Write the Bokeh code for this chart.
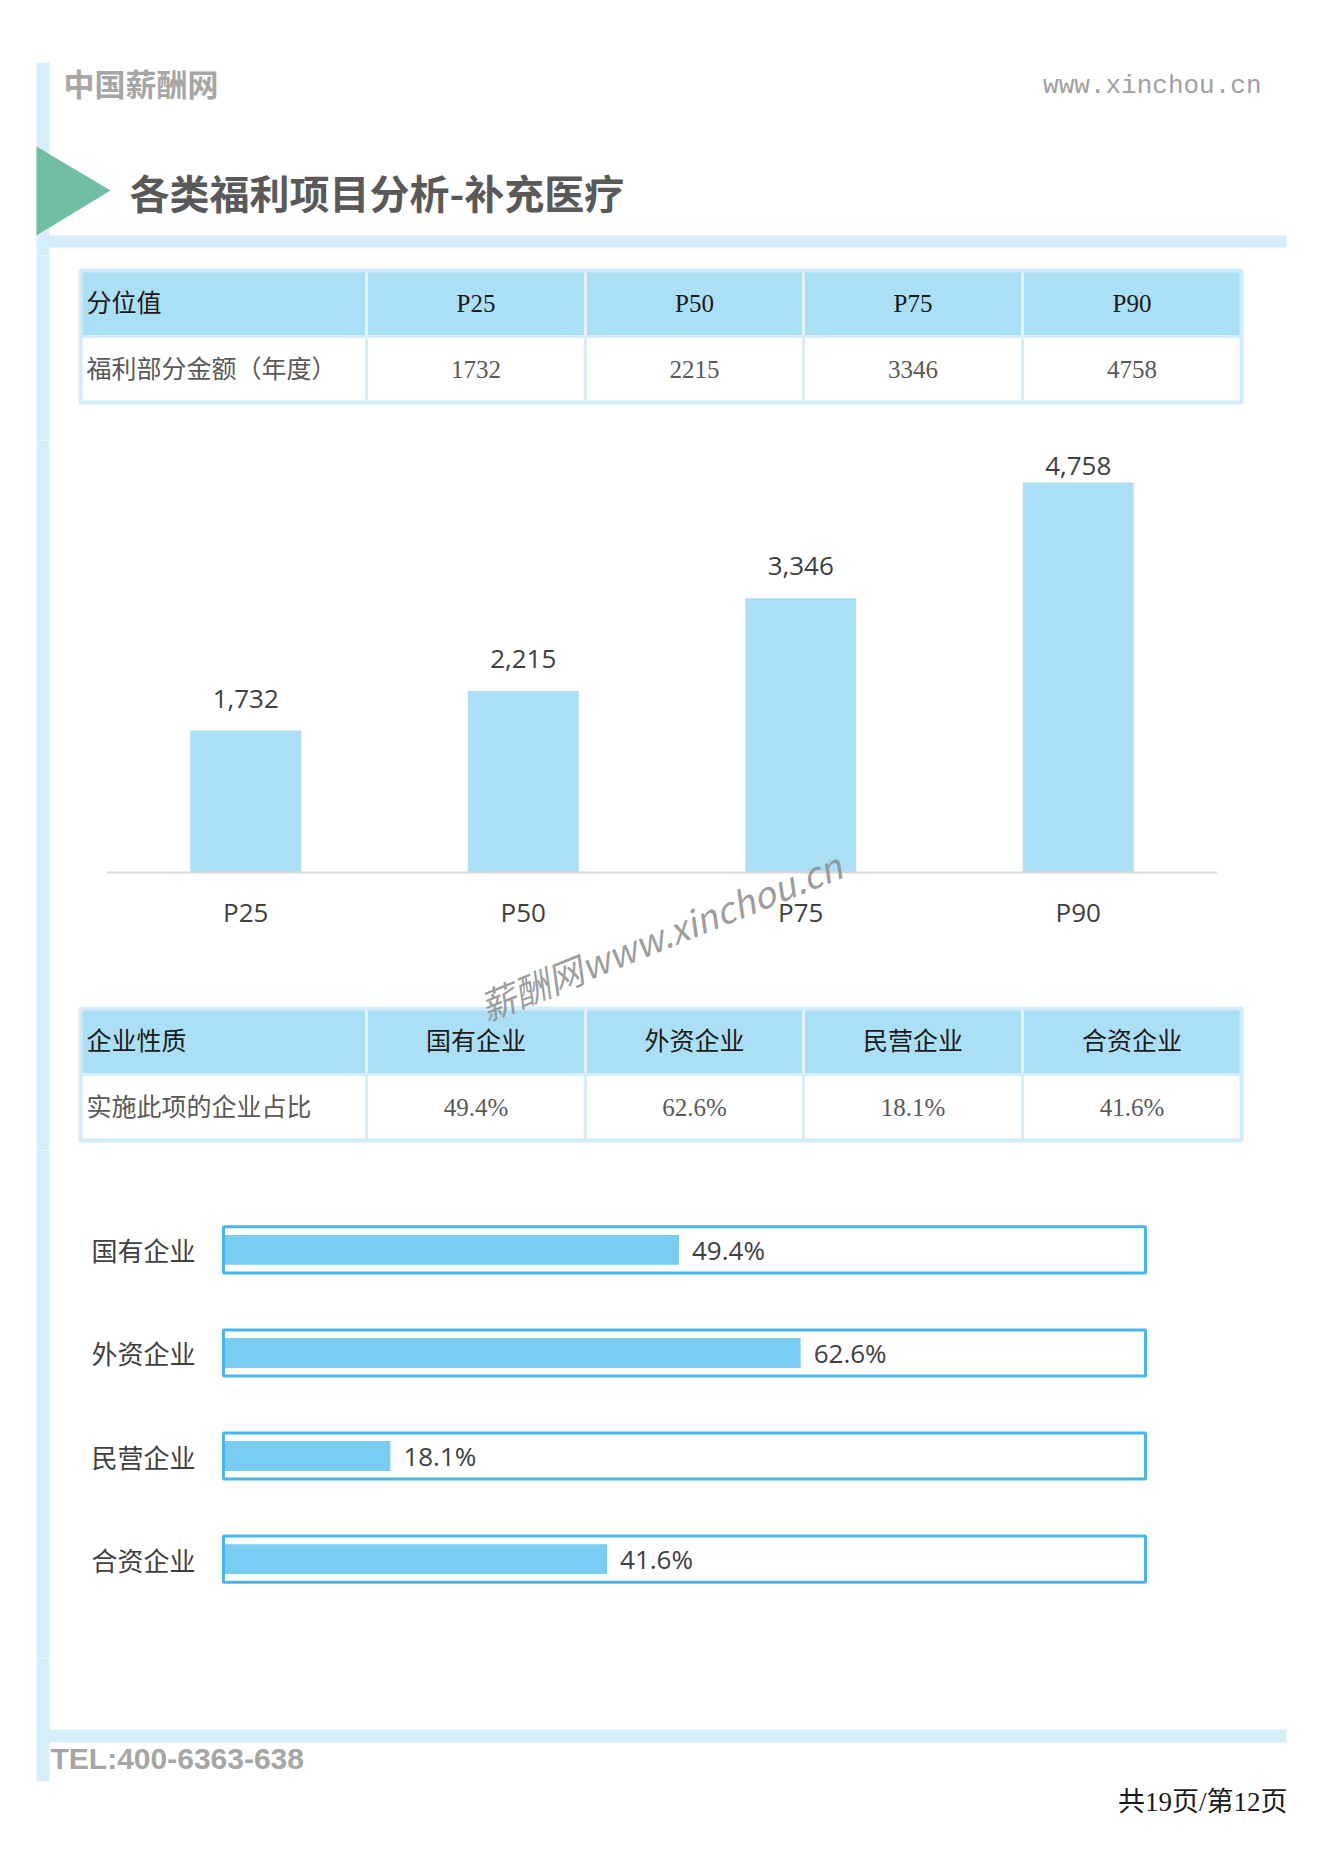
import math
from bokeh.plotting import figure
from bokeh.models import Range1d, FactorRange
from bokeh.layouts import column
from bokeh.core.properties import value
from bokeh.embed import file_html
from bokeh.resources import INLINE

# ---------------- data ----------------
pct_labels = ["P25", "P50", "P75", "P90"]
pct_values = [1732, 2215, 3346, 4758]
table1_head = "分位值"
table1_rowname = "福利部分金额（年度）"

ent_types = ["国有企业", "外资企业", "民营企业", "合资企业"]
ent_share = [49.4, 62.6, 18.1, 41.6]
table2_head = "企业性质"
table2_rowname = "实施此项的企业占比"

page_title = "各类福利项目分析-补充医疗"
brand = "中国薪酬网"
site = "www.xinchou.cn"
tel = "TEL:400-6363-638"
page_no = "共19页/第12页"
watermark = "薪酬网www.xinchou.cn"

# ---------------- styles ----------------
W = 1323
CJK = value("Noto Sans CJK SC")
SERIF = value("Liberation Serif, Noto Sans CJK SC")
NUM = value("Open Sans")
LIGHT = "#d6eef9"


def ident(v):
    return v


def fig(h, x_range=None, y_range=None):
    p = figure(width=W, height=h,
               x_range=x_range if x_range is not None else Range1d(0, W),
               y_range=y_range if y_range is not None else Range1d(h, 0),
               toolbar_location=None, output_backend="svg", min_border=0,
               x_axis_location=None, y_axis_location=None,
               outline_line_color=None, border_fill_color="white",
               background_fill_color="white")
    p.grid.visible = False
    return p


def left_bar(p, top, bottom, fx=ident, fy=ident):
    p.quad(left=[fx(36)], right=[fx(49)], top=[fy(top)], bottom=[fy(bottom)],
           color=LIGHT, line_color=None)


col_edges = [80, 366, 585, 803, 1022, 1241]


def draw_table(p, top, rh, head, head_cells, rowname, row_cells, fx=ident, fy=ident):
    lefts = [fx(v) for v in col_edges[:-1]]
    rights = [fx(v) for v in col_edges[1:]]
    n = len(lefts)
    p.quad(left=lefts, right=rights, top=[fy(top)] * n, bottom=[fy(top + rh)] * n,
           fill_color="#abdff6", line_color="#e2f3fb", line_width=3)
    p.quad(left=lefts, right=rights, top=[fy(top + rh)] * n, bottom=[fy(top + 2 * rh)] * n,
           fill_color="white", line_color="#d6eef9", line_width=3)
    p.quad(left=[fx(col_edges[0])], right=[fx(col_edges[-1])], top=[fy(top)],
           bottom=[fy(top + 2 * rh)], fill_color=None, line_color="#d2ebf8", line_width=4)
    centers = [fx((a + b) / 2) for a, b in zip(col_edges[1:-1], col_edges[2:])]
    kw = dict(text_font=SERIF, text_font_size="25px", text_baseline="middle")
    p.text(x=[fx(col_edges[0] + 6)], y=[fy(top + rh / 2)], text=[head],
           text_color="#1a1a1a", **kw)
    p.text(x=centers, y=[fy(top + rh / 2)] * len(centers), text=head_cells,
           text_color="#1a1a1a", text_align="center", **kw)
    p.text(x=[fx(col_edges[0] + 6)], y=[fy(top + rh * 1.5)], text=[rowname],
           text_color="#595959", **kw)
    p.text(x=centers, y=[fy(top + rh * 1.5)] * len(centers), text=row_cells,
           text_color="#595959", text_align="center", **kw)


# ---------------- header (page y 0-255) ----------------
hd = fig(255)
left_bar(hd, 62, 265)
hd.quad(left=[36], right=[1286], top=[235], bottom=[247], color=LIGHT, line_color=None)
hd.patch([36, 36, 110], [146, 235, 190], color="#72bea5", line_color=None)
hd.text(x=[63], y=[82], text=[brand], text_font=CJK, text_font_size="31px",
        text_font_style="bold", text_color="#a6a6a6", text_baseline="middle")
hd.text(x=[1261], y=[85], text=[site], text_font=value("Liberation Mono"),
        text_font_size="26px", text_color="#a0a0a0", text_baseline="middle",
        text_align="right")
hd.text(x=[129], y=[191], text=[page_title], text_font=CJK, text_font_size="40px",
        text_font_style="bold", text_color="#595959", text_baseline="middle")

# ---------------- table 1 (page y 255-440) ----------------
t1 = fig(185)
left_bar(t1, -10, 195)
draw_table(t1, 15, 66, table1_head, pct_labels, table1_rowname,
           [str(v) for v in pct_values])

# ---------------- bar chart + table 2 (page y 440-1150) ----------------
BH = 710
cat_px = 277.5                  # pixels per category
base_px = 432                   # baseline, px from the top of this block
upp = max(pct_values) / 390.0   # value units per pixel
y_hi = base_px * upp
y_lo = -(BH - base_px) * upp
ncat = len(pct_labels)
pad = (W / cat_px - ncat) / ncat
side_px = (W - ncat * cat_px) / 2
bc = fig(BH, x_range=FactorRange(factors=pct_labels, range_padding=pad),
         y_range=Range1d(y_lo, y_hi))


def bfx(px):
    return (px - side_px) / cat_px


def bfy(py):
    return y_hi - py * upp


left_bar(bc, -10, BH + 10, bfx, bfy)
bc.vbar(x=pct_labels, top=pct_values, width=0.4, fill_color="#abdff6", line_color=None)
bc.segment(x0=[0], y0=[0], x1=[ncat], y1=[0], line_color="#d9d9d9", line_width=2)
offs = [-min(32, (y_hi - v) / upp - 25) for v in pct_values]
bc.text(x=pct_labels, y=pct_values, text=[f"{v:,}" for v in pct_values], y_offset=offs,
        text_align="center", text_baseline="middle", text_font=NUM,
        text_font_size="26px", text_color="#404040")
bc.text(x=pct_labels, y=[0] * ncat, text=pct_labels, y_offset=39,
        text_align="center", text_baseline="middle", text_font=NUM,
        text_font_size="26px", text_color="#404040")
draw_table(bc, 568, 66, table2_head, ent_types, table2_rowname,
           [f"{v}%" for v in ent_share], bfx, bfy)
bc.text(x=[2.0], y=[0], text=[watermark], x_offset=-2, y_offset=62,
        angle=math.radians(22), text_align="center", text_baseline="middle",
        text_font=CJK, text_font_size="36px", text_font_style="italic",
        text_color="#8c8c8c", text_alpha=0.85)

# ---------------- horizontal bars (page y 1150-1658) ----------------
HH = 508
ppu = 922 / 100.0               # pixels per percent
x0 = -223 / ppu
nent = len(ent_types)
hpad = 0.232
span_units = nent * (1 + hpad)
hb = fig(HH, x_range=Range1d(x0, x0 + W / ppu),
         y_range=FactorRange(factors=ent_types[::-1], range_padding=hpad))


def hfx(px):
    return x0 + px / ppu


def hfy(py):
    top_u = nent + nent * hpad / 2
    return top_u - py * span_units / HH


left_bar(hb, -10, HH + 10, hfx, hfy)
hb.hbar(y=ent_types, left=0, right=ent_share, height=0.29, fill_color="#79ccf2",
        line_color=None)
hb.hbar(y=ent_types, left=0, right=100, height=0.447, fill_color=None,
        line_color="#4ab5ea", line_width=3)
hb.text(x=ent_share, y=ent_types, text=[f"{v}%" for v in ent_share], x_offset=13,
        text_baseline="middle", text_font=NUM, text_font_size="26px",
        text_color="#404040")
hb.text(x=[0] * nent, y=ent_types, text=ent_types, x_offset=-28,
        text_align="right", text_baseline="middle", text_font=CJK,
        text_font_size="26px", text_color="#404040")

# ---------------- footer (page y 1658-1871) ----------------
ft = fig(213)
left_bar(ft, -10, 123)
ft.quad(left=[36], right=[1286], top=[71], bottom=[84], color=LIGHT, line_color=None)
ft.text(x=[50], y=[100], text=[tel], text_font=value("Liberation Sans"),
        text_font_size="30px", text_font_style="bold", text_color="#a6a6a6",
        text_baseline="middle")
ft.text(x=[1287], y=[143], text=[page_no], text_font=SERIF, text_font_size="27px",
        text_color="#1a1a1a", text_baseline="middle", text_align="right")

layout = column(hd, t1, bc, hb, ft, spacing=0)

open("out.html", "w").write(file_html(layout, INLINE))
